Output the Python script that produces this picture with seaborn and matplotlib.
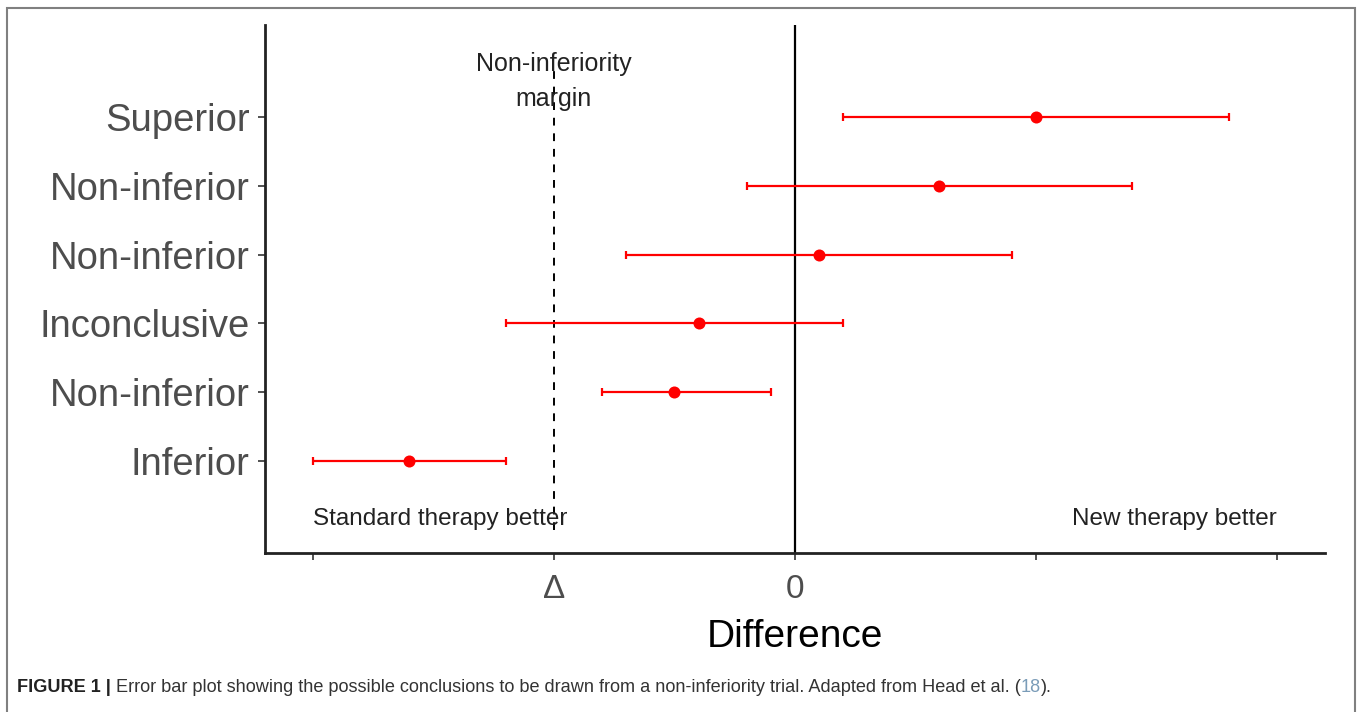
import matplotlib
matplotlib.use("Agg")
import matplotlib.pyplot as plt
import seaborn as sns
import pandas as pd
from matplotlib.patches import Rectangle

# conclusions, top to bottom
conclusions = ["Superior", "Non-inferior", "Non-inferior", "Inconclusive", "Non-inferior", "Inferior"]
estimate = [1.0, 0.6, 0.1, -0.4, -0.5, -1.6]
lower = [0.2, -0.2, -0.7, -1.2, -0.8, -2.0]
upper = [1.8, 1.4, 0.9, 0.2, -0.1, -1.2]
positions = [6, 5, 4, 3, 2, 1]

x_ticks = [-2, -1, 0, 1, 2]
x_ticklabels = ["", "Δ", "0", "", ""]

df = pd.DataFrame({"conclusion": conclusions, "est": estimate, "lo": lower,
                   "hi": upper, "pos": positions})

sns.set_style("white")
plt.rcParams["font.family"] = ["Liberation Sans", "DejaVu Sans"]

fig = plt.figure(figsize=(13.58, 7.12), dpi=100)
ax = fig.add_axes([0.195, 0.2233, 0.7807, 0.7416])

red = "#FF0000"
ax.errorbar(df["est"], df["pos"],
            xerr=[df["est"] - df["lo"], df["hi"] - df["est"]],
            fmt="none", ecolor=red, elinewidth=1.6, capsize=3, capthick=1.6, zorder=3)
sns.scatterplot(data=df, x="est", y="pos", color=red, s=75, edgecolor=red,
                linewidth=0, ax=ax, zorder=4)

ax.axvline(0, color="black", lw=1.6, zorder=2)
ax.plot([-1, -1], [0.0, 6.72], color="black", lw=1.4, ls=(0, (4, 4)), zorder=2)

ax.text(-1, 6.51, "Non-inferiority\nmargin", ha="center", va="center",
        fontsize=18, linespacing=1.6, color="#222222")
ax.text(-2, 0.16, "Standard therapy better", ha="left", va="center", fontsize=17.5,
        color="#222222")
ax.text(2, 0.16, "New therapy better", ha="right", va="center", fontsize=17.5,
        color="#222222")

ax.set_xlim(-2.2, 2.2)
ax.set_ylim(-0.33, 7.33)
ax.set_xticks(x_ticks)
ax.set_xticklabels(x_ticklabels, fontsize=24, color="#4D4D4D")
ax.set_yticks(df["pos"])
ax.set_yticklabels(df["conclusion"], fontsize=27.5, color="#4D4D4D")
ax.tick_params(axis="both", left=True, bottom=True, length=5, width=1.2,
               color="#333333", direction="out")
ax.tick_params(axis="y", pad=6)
ax.tick_params(axis="x", pad=10)
ax.set_xlabel("Difference", fontsize=28, color="black", labelpad=10)
ax.set_ylabel("")
for side in ["top", "right"]:
    ax.spines[side].set_visible(False)
for side in ["left", "bottom"]:
    ax.spines[side].set_color("#222222")
    ax.spines[side].set_linewidth(2)

# figure frame
fig.patches.append(Rectangle((7 / 1358, -0.05), 1348 / 1358, 1 - 8 / 712 + 0.05,
                             transform=fig.transFigure, fill=False,
                             edgecolor="#808080", lw=1.5))

# caption
cap_y = 1 - 687 / 712
cap_size = 13.1
cap1 = fig.text(17 / 1358, cap_y, "FIGURE 1 |", fontsize=cap_size, fontweight="bold",
                va="center", ha="left", color="#222222")
cap2 = fig.text(0, cap_y, " Error bar plot showing the possible conclusions to be drawn from a "
                "non-inferiority trial. Adapted from Head et al. (", fontsize=cap_size,
                color="#333333", va="center")
fig.canvas.draw()
r = fig.canvas.get_renderer()
bb = cap1.get_window_extent(r)
cap2.set_x(bb.x1 / fig.bbox.width)
fig.canvas.draw()
bb = cap2.get_window_extent(r)
cap3 = fig.text(bb.x1 / fig.bbox.width, cap_y, "18", fontsize=cap_size,
                color="#7A9CB8", va="center")
fig.canvas.draw()
bb = cap3.get_window_extent(r)
fig.text(bb.x1 / fig.bbox.width, cap_y, ").", fontsize=cap_size,
         color="#333333", va="center")

fig.savefig("out.png", dpi=100)
